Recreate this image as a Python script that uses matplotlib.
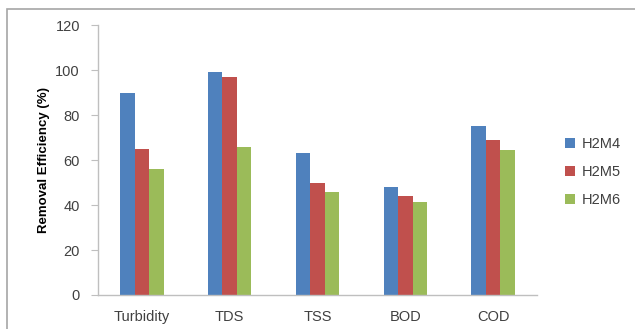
import numpy as np
import matplotlib.pyplot as plt
from matplotlib.patches import Rectangle

# removal efficiency (%) for each parameter and each mix
parameters = ['Turbidity', 'TDS', 'TSS', 'BOD', 'COD']
series_names = ['H2M4', 'H2M5', 'H2M6']
h2m4 = [90, 99, 63, 48, 75]
h2m5 = [65, 97, 50, 44, 69]
h2m6 = [56, 66, 46, 41.5, 64.5]
y_ticks = [0, 20, 40, 60, 80, 100, 120]

colors = ['#4F81BD', '#C0504D', '#9BBB59']
axis_grey = '#BFBFBF'
text_grey = '#404040'

plt.rcParams['font.family'] = ['Liberation Sans', 'DejaVu Sans']

fig = plt.figure(figsize=(6.35, 3.29), dpi=100)

# thin grey chart border, running off the right and bottom edges
fig.patches.append(Rectangle((6.5/635, -0.05), 1.2, 1 - 8.5/329 + 0.05,
                             transform=fig.transFigure, fill=False,
                             edgecolor='#A6A6A6', linewidth=1.2))

ax = fig.add_axes([98/635, 1 - 295/329, 439/635, 270/329])

x = np.arange(len(parameters))
width = 0.165
for i, (name, vals) in enumerate(zip(series_names, [h2m4, h2m5, h2m6])):
    ax.bar(x + (i - 1) * width, vals, width, color=colors[i], label=name)

ax.set_xlim(-0.5, len(parameters) - 0.5)
ax.set_ylim(0, 120)
ax.set_yticks(y_ticks)
ax.set_xticks(x)
ax.set_xticklabels(parameters)

for side in ['top', 'right']:
    ax.spines[side].set_visible(False)
for side in ['left', 'bottom']:
    ax.spines[side].set_color(axis_grey)
    ax.spines[side].set_linewidth(1.0)

ax.tick_params(axis='y', colors=axis_grey, labelcolor=text_grey,
               length=5, labelsize=10.5, pad=8)
ax.tick_params(axis='x', length=0, labelcolor=text_grey, labelsize=10.5,
               pad=11)

ax.set_ylabel('Removal Efficiency (%)', fontsize=9.5, fontweight='bold',
              color='black', labelpad=4)

ax.legend(loc='center left', bbox_to_anchor=(1.035, 0.455), frameon=False,
          fontsize=10.5, handlelength=0.65, handleheight=0.65,
          handletextpad=0.45, labelspacing=0.95, labelcolor=text_grey)

fig.savefig('out.png', dpi=100)
